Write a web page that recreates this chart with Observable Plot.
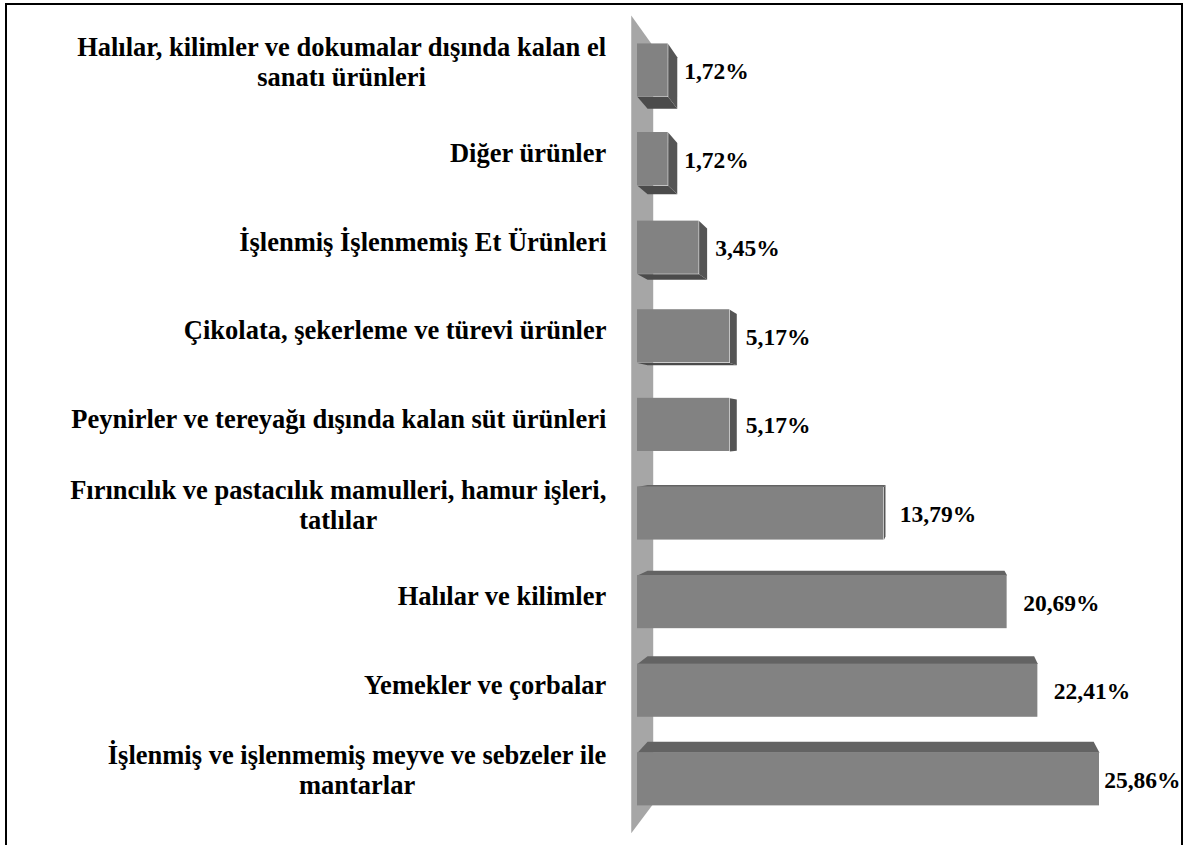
<!DOCTYPE html>
<html><head><meta charset="utf-8">
<script src="https://cdn.jsdelivr.net/npm/d3@7"></script>
<script src="https://cdn.jsdelivr.net/npm/@observablehq/plot@0.6"></script>
<style>
html,body{margin:0;padding:0;background:#fff;overflow:hidden;}
#wrap{position:relative;width:1185px;height:845px;overflow:hidden;background:#fff;}
#frame{position:absolute;left:5px;top:3px;width:1178px;height:900px;border:2.5px solid #000;box-sizing:border-box;pointer-events:none;}
#chart{position:absolute;left:0;top:0;}
</style></head><body>
<div id="wrap"><div id="chart"></div><div id="frame"></div></div>
<script>
// ---- data ----
const categories = [
  "Halılar, kilimler ve dokumalar dışında kalan el\nsanatı ürünleri",
  "Diğer ürünler",
  "İşlenmiş İşlenmemiş Et Ürünleri",
  "Çikolata, şekerleme ve türevi ürünler",
  "Peynirler ve tereyağı dışında kalan süt ürünleri",
  "Fırıncılık ve pastacılık mamulleri, hamur işleri,\ntatlılar",
  "Halılar ve kilimler",
  "Yemekler ve çorbalar",
  "İşlenmiş ve işlenmemiş meyve ve sebzeler ile\nmantarlar"
];
const values = [1.72, 1.72, 3.45, 5.17, 5.17, 13.79, 20.69, 22.41, 25.86];
const valueLabels = ["1,72%", "1,72%", "3,45%", "5,17%", "5,17%", "13,79%", "20,69%", "22,41%", "25,86%"];

// ---- layout ----
const W = 1185, H = 845;
const mL = 637, mR = 86, mT = 25.7, mB = 21.9;
const xMax = d3.max(values);
const kx = (W - mL - mR) / xMax;              // px per data unit (x)
const ky = (H - mT - mB) / categories.length; // px per band (y)
const half = 0.3;                              // half bar height in band units
const vanish = {x: 16.4, y: 4.1};              // perspective vanishing point (data units)
const depth = 0.0345;                          // bar depth factor
const fsCat = 26.5, fsVal = 23.5;
const font = '"Liberation Serif", "Times New Roman", serif';

const back = (p, f = depth) => ({x: p.x + f * (vanish.x - p.x), y: p.y + f * (vanish.y - p.y)});

const bars = values.map((v, i) => ({i, v, label: valueLabels[i]}));
const topF = [], botF = [], rightF = [];
bars.forEach(b => {
  const y0 = b.i - half, y1 = b.i + half;
  const q = (pts, arr) => pts.forEach(p => arr.push({id: b.i, x: p.x, y: p.y}));
  if (vanish.y < y0) {
    const a = {x: 0, y: y0}, c = {x: b.v, y: y0};
    q([a, c, back(c), back(a)], topF);
  }
  if (vanish.y > y1) {
    const a = {x: 0, y: y1}, c = {x: b.v, y: y1};
    q([a, c, back(c), back(a)], botF);
  }
  if (vanish.x > b.v) {
    const a = {x: b.v, y: y0}, c = {x: b.v, y: y1};
    q([a, c, back(c), back(a)], rightF);
  }
});

// wall (side plane next to the category axis)
const wf = 0.0734;
const wTop = {x: -0.35, y: -0.62}, wBot = {x: -0.35, y: 8.61};
const wall = [wTop, back(wTop, wf), back(wBot, wf), wBot].map(p => ({...p, id: 0}));

// text measurement
const ctx = document.createElement("canvas").getContext("2d");
const gap = 31, lineH = 30;
ctx.font = `bold ${fsCat}px ${font}`;
const labelLines = [];
categories.forEach((c, i) => {
  const lines = c.split("\n");
  const n = lines.length;
  const bw = d3.max(lines, l => ctx.measureText(l).width);
  lines.forEach((l, j) => {
    const basePx = (j - (n - 1) / 2) * lineH + (n === 1 ? 3 : 0); // baseline offset from bar centre
    const yPx = basePx - 0.32 * fsCat;
    labelLines.push({text: l, x: -(gap + bw / 2) / kx, y: i + yPx / ky});
  });
});
ctx.font = `bold ${fsVal}px ${font}`;
const rightLimit = 1180;
const valText = bars.map(b => {
  const w = ctx.measureText(b.label).width;
  return {text: b.label, y: b.i + 1 / ky, x: Math.min(b.v + 16 / kx, (rightLimit - mL - w) / kx)};
});

const poly = (data, fill) => Plot.line(data, {x: "x", y: "y", z: "id", fill, stroke: "none", curve: "linear-closed"});

const plot = Plot.plot({
  width: W, height: H,
  marginLeft: mL, marginRight: mR, marginTop: mT, marginBottom: mB,
  style: {fontFamily: font, background: "transparent"},
  x: {domain: [0, xMax], axis: null},
  y: {domain: [-0.5, categories.length - 0.5], reverse: true, axis: null},
  marks: [
    poly(wall, "#a6a6a6"),
    poly(topF, "#636363"),
    poly(botF, "#4b4b4b"),
    poly(rightF, "#555555"),
    Plot.rect(bars, {x1: 0, x2: "v", y1: d => d.i - half, y2: d => d.i + half, fill: "#828282"}),
    Plot.text(labelLines, {x: "x", y: "y", text: "text", textAnchor: "middle", lineAnchor: "middle", fontSize: fsCat, fontWeight: "bold", fill: "#000", fontFamily: font}),
    Plot.text(valText, {x: "x", y: "y", text: "text", textAnchor: "start", lineAnchor: "middle", fontSize: fsVal, fontWeight: "bold", fill: "#000", fontFamily: font})
  ]
});
document.getElementById("chart").appendChild(plot);
</script>
</body></html>
